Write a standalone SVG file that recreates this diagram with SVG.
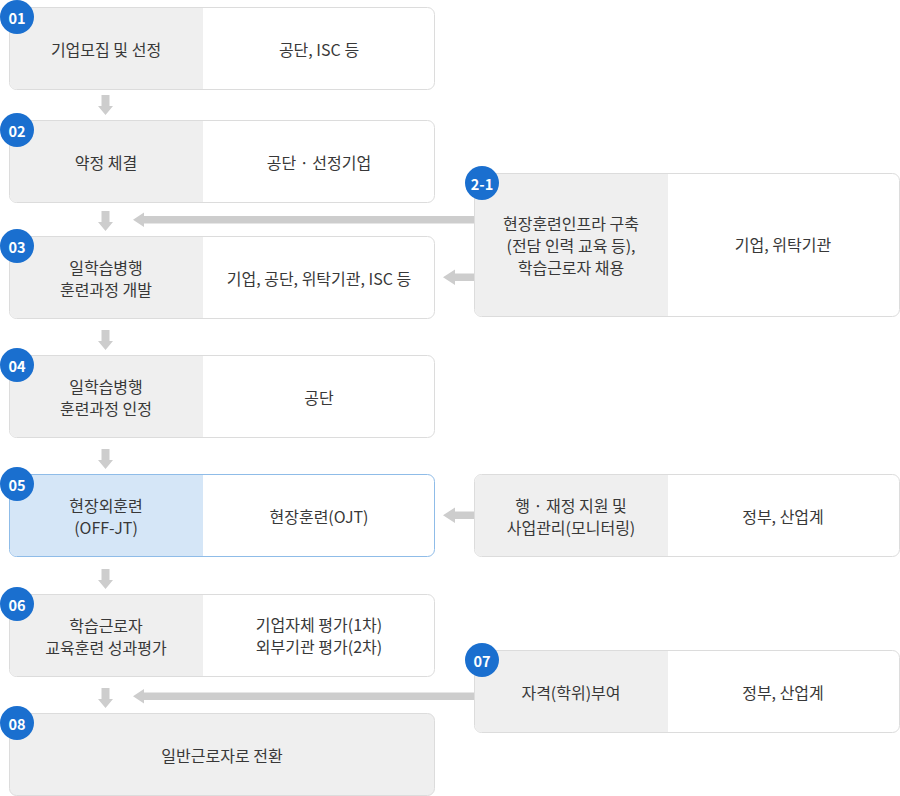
<svg xmlns="http://www.w3.org/2000/svg" width="900" height="796" viewBox="0 0 900 796">
<defs>
<style>
.box{fill:#fff;stroke:#dcdcdc;stroke-width:1}
.gl{fill:#efefef}
.bl{fill:#d5e6f7}
.bbox{fill:#fff;stroke:#8fbce8;stroke-width:1}
.t{font-family:"Noto Sans CJK KR","Noto Sans",sans-serif;font-size:16px;fill:#383838;text-anchor:middle;dominant-baseline:central}
.bd{fill:#1a6fcf}
.bt{font-family:"Noto Sans CJK KR","Noto Sans",sans-serif;font-size:14.5px;font-weight:bold;fill:#fff;text-anchor:middle;dominant-baseline:central}
.ar{fill:#cdcdcd}
</style>
</defs>

<g id="connectors">
  <path class="ar" d="M101.5 95 H109.5 V106 H113 L105.5 115 L98 106 H101.5 Z"/>
  <path class="ar" d="M101.5 211 H109.5 V222 H113 L105.5 231 L98 222 H101.5 Z"/>
  <path class="ar" d="M101.5 330 H109.5 V341 H113 L105.5 350 L98 341 H101.5 Z"/>
  <path class="ar" d="M101.5 449 H109.5 V460 H113 L105.5 469 L98 460 H101.5 Z"/>
  <path class="ar" d="M101.5 569 H109.5 V580 H113 L105.5 589 L98 580 H101.5 Z"/>
  <path class="ar" d="M101.5 688 H109.5 V699 H113 L105.5 708 L98 699 H101.5 Z"/>
  <path class="ar" d="M474 216 V223.5 H144 V227 L133 219.7 L144 212.5 V216 Z"/>
  <path class="ar" d="M474 273.5 V281 H455 V285 L443 277.3 L455 269.5 V273.5 Z"/>
  <path class="ar" d="M474 511.5 V519 H455 V523 L443 515.3 L455 507.5 V511.5 Z"/>
  <path class="ar" d="M474 692.5 V700 H144 V703.5 L133 696.3 L144 689 V692.5 Z"/>
</g>

<g id="n01">
  <rect class="box" x="9.5" y="7.5" width="425" height="82" rx="7"/>
  <path class="gl" d="M203 8 V89 H16.5 A6.5 6.5 0 0 1 10 82.5 V14.5 A6.5 6.5 0 0 1 16.5 8 Z"/>
  <text class="t" x="106" y="48.5">기업모집 및 선정</text>
  <text class="t" x="319" y="48.5">공단, ISC 등</text>
  <circle class="bd" cx="17" cy="17" r="17"/><text class="bt" x="17" y="17">01</text>
</g>

<g id="n02">
  <rect class="box" x="9.5" y="120.5" width="425" height="82" rx="7"/>
  <path class="gl" d="M203 121 V202 H16.5 A6.5 6.5 0 0 1 10 195.5 V127.5 A6.5 6.5 0 0 1 16.5 121 Z"/>
  <text class="t" x="106" y="161.5">약정 체결</text>
  <text class="t" x="319" y="161.5">공단 · 선정기업</text>
  <circle class="bd" cx="17" cy="130" r="17"/><text class="bt" x="17" y="130">02</text>
</g>

<g id="n03">
  <rect class="box" x="9.5" y="236.5" width="425" height="82" rx="7"/>
  <path class="gl" d="M203 237 V318 H16.5 A6.5 6.5 0 0 1 10 311.5 V243.5 A6.5 6.5 0 0 1 16.5 237 Z"/>
  <text class="t" x="106" y="266.5">일학습병행</text>
  <text class="t" x="106" y="288.5">훈련과정 개발</text>
  <text class="t" x="319" y="277.5">기업, 공단, 위탁기관, ISC 등</text>
  <circle class="bd" cx="17" cy="246" r="17"/><text class="bt" x="17" y="246">03</text>
</g>

<g id="n04">
  <rect class="box" x="9.5" y="355.5" width="425" height="82" rx="7"/>
  <path class="gl" d="M203 356 V437 H16.5 A6.5 6.5 0 0 1 10 430.5 V362.5 A6.5 6.5 0 0 1 16.5 356 Z"/>
  <text class="t" x="106" y="385.5">일학습병행</text>
  <text class="t" x="106" y="407.5">훈련과정 인정</text>
  <text class="t" x="319" y="396.5">공단</text>
  <circle class="bd" cx="17" cy="365" r="17"/><text class="bt" x="17" y="365">04</text>
</g>

<g id="n05">
  <rect class="bbox" x="9.5" y="474.5" width="425" height="82" rx="7"/>
  <path class="bl" d="M203 475 V556 H16.5 A6.5 6.5 0 0 1 10 549.5 V481.5 A6.5 6.5 0 0 1 16.5 475 Z"/>
  <text class="t" x="106" y="504.5">현장외훈련</text>
  <text class="t" x="106" y="526.5">(OFF-JT)</text>
  <text class="t" x="319" y="515.5">현장훈련(OJT)</text>
  <circle class="bd" cx="17" cy="484" r="17"/><text class="bt" x="17" y="484">05</text>
</g>

<g id="n06">
  <rect class="box" x="9.5" y="594.5" width="425" height="82" rx="7"/>
  <path class="gl" d="M203 595 V676 H16.5 A6.5 6.5 0 0 1 10 669.5 V601.5 A6.5 6.5 0 0 1 16.5 595 Z"/>
  <text class="t" x="106" y="625">학습근로자</text>
  <text class="t" x="106" y="647">교육훈련 성과평가</text>
  <text class="t" x="319" y="624">기업자체 평가(1차)</text>
  <text class="t" x="319" y="646">외부기관 평가(2차)</text>
  <circle class="bd" cx="17" cy="604" r="17"/><text class="bt" x="17" y="604">06</text>
</g>

<g id="n08">
  <rect x="9.5" y="713.5" width="425" height="82" rx="7" fill="#efefef" stroke="#dcdcdc"/>
  <text class="t" x="222" y="754.5">일반근로자로 전환</text>
  <circle class="bd" cx="17" cy="723" r="17"/><text class="bt" x="17" y="723">08</text>
</g>

<g id="n21">
  <rect class="box" x="474.5" y="173.5" width="425" height="143" rx="7"/>
  <path class="gl" d="M668 174 V316 H481.5 A6.5 6.5 0 0 1 475 309.5 V180.5 A6.5 6.5 0 0 1 481.5 174 Z"/>
  <text class="t" x="571" y="222.5">현장훈련인프라 구축</text>
  <text class="t" x="571" y="244.5">(전담 인력 교육 등),</text>
  <text class="t" x="571" y="266.5">학습근로자 채용</text>
  <text class="t" x="783" y="243.5">기업, 위탁기관</text>
  <circle class="bd" cx="482" cy="183" r="17"/><text class="bt" x="482" y="183">2-1</text>
</g>

<g id="n05s">
  <rect class="box" x="474.5" y="474.5" width="425" height="82" rx="7"/>
  <path class="gl" d="M668 475 V556 H481.5 A6.5 6.5 0 0 1 475 549.5 V481.5 A6.5 6.5 0 0 1 481.5 475 Z"/>
  <text class="t" x="571" y="504.5">행 · 재정 지원 및</text>
  <text class="t" x="571" y="526.5">사업관리(모니터링)</text>
  <text class="t" x="783" y="515.5">정부, 산업계</text>
</g>

<g id="n07">
  <rect class="box" x="474.5" y="650.5" width="425" height="82" rx="7"/>
  <path class="gl" d="M668 651 V732 H481.5 A6.5 6.5 0 0 1 475 725.5 V657.5 A6.5 6.5 0 0 1 481.5 651 Z"/>
  <text class="t" x="571" y="691.5">자격(학위)부여</text>
  <text class="t" x="783" y="691.5">정부, 산업계</text>
  <circle class="bd" cx="482" cy="660" r="17"/><text class="bt" x="482" y="660">07</text>
</g>
</svg>
